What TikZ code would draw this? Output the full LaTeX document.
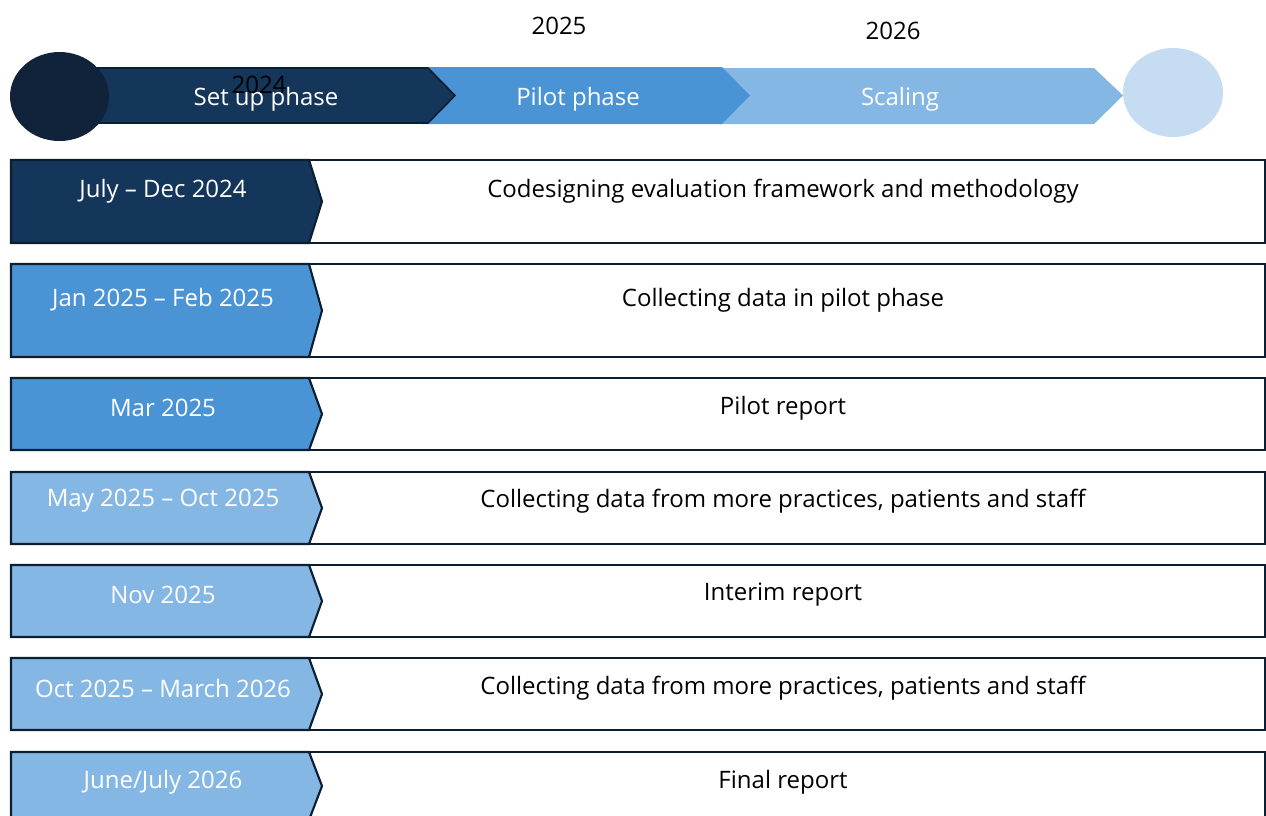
\documentclass[tikz,border=0pt]{standalone}
\usepackage{fontspec}
\setmainfont{Open Sans}
\definecolor{navy}{HTML}{14365A}
\definecolor{navyline}{HTML}{0C1E32}
\definecolor{darkcirc}{HTML}{10233A}
\definecolor{midblue}{HTML}{4A94D6}
\definecolor{lightblue}{HTML}{85B7E5}
\definecolor{paleblue}{HTML}{C5DCF2}
\tikzset{
  datetxt/.style={text=white,font=\fontsize{18}{21}\selectfont,inner sep=0pt},
  desctxt/.style={text=black,font=\fontsize{18}{21}\selectfont,inner sep=0pt},
  yeartxt/.style={text=black,font=\fontsize{18}{21}\selectfont,inner sep=0pt},
  phasetxt/.style={text=white,font=\fontsize{18}{21}\selectfont,inner sep=0pt},
  rowbox/.style={draw=navyline,line width=1.6pt,fill=white},
  chev/.style={draw=navyline,line width=1.6pt,line join=miter},
}
\begin{document}
\begin{tikzpicture}[x=0.75pt,y=-0.75pt]
\useasboundingbox (0,0) rectangle (1266,815);
\clip (0,0) rectangle (1266,815);
% top phase arrows
\fill[lightblue] (720,68) -- (1094,68) -- (1123,95.5) -- (1094,124) -- (720,124) -- cycle;
\fill[midblue] (421,67) -- (722,67) -- (750,95.5) -- (722,124) -- (421,124) -- cycle;
\filldraw[fill=navy,draw=navyline,line width=1.2pt] (95,68) -- (428,68) -- (455,95.5) -- (428,123) -- (95,123) -- cycle;
\fill[darkcirc] (59.5,96.5) ellipse [x radius=49.5, y radius=44.5];
\fill[paleblue] (1173,92.5) ellipse [x radius=50, y radius=44.5];
\node[phasetxt] (p1) at (266,99) {Set up phase};
\node[phasetxt] (p2) at (578,99) {Pilot phase};
\node[phasetxt] (p3) at (900,99) {Scaling};
\node[yeartxt] (y24) at (259,85) {2024};
\node[yeartxt] (y25) at (559,26) {2025};
\node[yeartxt] (y26) at (893,31) {2026};
% rows
\foreach \t/\b/\c/\ty/\d/\e [count=\i] in {
  160/243/navy/191/{July – Dec 2024}/{Codesigning evaluation framework and methodology},
  264/357/midblue/300/{Jan 2025 – Feb 2025}/{Collecting data in pilot phase},
  378/450/midblue/408/{Mar 2025}/{Pilot report},
  472/544/lightblue/501/{May 2025 – Oct 2025}/{Collecting data from more practices, patients and staff},
  565/637/lightblue/595/{Nov 2025}/{Interim report},
  658/730/lightblue/688/{Oct 2025 – March 2026}/{Collecting data from more practices, patients and staff},
  752/820/lightblue/782/{June/July 2026}/{Final report}}{
  \pgfmathsetmacro{\m}{(\t+\b)/2}
  \draw[rowbox] (300,\t) rectangle (1265,\b);
  \filldraw[chev,fill=\c] (11,\t) -- (309,\t) -- (322,\m) -- (309,\b) -- (11,\b) -- cycle;
  \node[datetxt] (d\i) at (163,\ty) {\d};
  \node[desctxt] (e\i) at (783,\ty) {\e};
}
\end{tikzpicture}
\end{document}
